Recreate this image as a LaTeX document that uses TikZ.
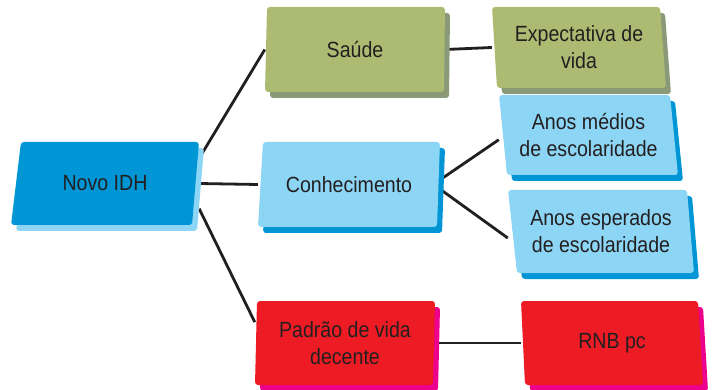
\documentclass[tikz,border=0pt]{standalone}
\usepackage{fontspec}
\setmainfont{Liberation Sans}[FakeStretch=0.89]
\usepackage{tikz}
\usetikzlibrary{fit}
\usetikzlibrary{backgrounds}
\definecolor{idhink}{HTML}{231F20}
\definecolor{idhgreen}{HTML}{ADBB72}
\definecolor{idhgreenshade}{HTML}{8A9A78}
\definecolor{idhblue}{HTML}{0096D6}
\definecolor{idhsky}{HTML}{8DD5F5}
\definecolor{idhred}{HTML}{ED1C24}
\definecolor{idhmagenta}{HTML}{EC008C}
\tikzstyle{boxframe}=[inner sep=0pt]
\tikzstyle{boxtext}=[inner sep=0pt,align=center,text=idhink,font=\fontsize{22}{27}\selectfont]
\tikzstyle{link}=[line width=2.8pt,idhink]
% box: name, fill, shade, four corners (tl,tr,br,bl), text
\newcommand\idhbox[8]{%
	\fill[#3,rounded corners=3pt,shift={(5,6)}] #4 -- #5 -- #6 -- #7 -- cycle;
	\fill[#2,rounded corners=3pt] #4 -- #5 -- #6 -- #7 -- cycle;
	\node[boxframe,fit={#4 #5 #6 #7}] (#1) {};
	\node[boxtext] (#1-text) at (#1.center) {#8};
}

\begin{document}
\begin{tikzpicture}[x=1pt,y=-1pt]
	\useasboundingbox (0,0) rectangle (712,390);
	\idhbox{idh}{idhblue}{idhsky}{(21,142)}{(199,142)}{(192,225)}{(11,225)}{Novo IDH}
	\idhbox{saude}{idhgreen}{idhgreenshade}{(267,7)}{(445,7)}{(444,92)}{(265,92)}{Saúde}
	\idhbox{vida}{idhgreen}{idhgreenshade}{(492,7)}{(660,7)}{(666,88)}{(497,88)}{Expectativa de\\vida}
	\idhbox{conh}{idhsky}{idhblue}{(263,142)}{(440,142)}{(437,227)}{(258,227)}{Conhecimento}
	\idhbox{medios}{idhsky}{idhblue}{(499,95)}{(670,95)}{(678,175)}{(507,175)}{Anos médios\\de escolaridade}
	\idhbox{esper}{idhsky}{idhblue}{(508,190)}{(687,190)}{(694,273)}{(517,273)}{Anos esperados\\de escolaridade}
	\idhbox{padrao}{idhred}{idhmagenta}{(257,301)}{(435,301)}{(433,385)}{(255,385)}{Padrão de vida\\decente}
	\idhbox{rnb}{idhred}{idhmagenta}{(521,301)}{(698,301)}{(703,385)}{(525,385)}{RNB pc}
	\begin{scope}[on background layer]
		\draw[link] (idh.15) -- (saude.west);
		\draw[link] (idh.east) -- (conh.west);
		\draw[link] (idh.345) -- (padrao.167);
		\draw[link] (saude.east) -- (vida.west);
		\draw[link] (conh.3) -- (medios.183);
		\draw[link] (conh.357) -- (esper.184);
		\draw[link] (padrao.east) -- (rnb.west);
	\end{scope}
\end{tikzpicture}
\end{document}
